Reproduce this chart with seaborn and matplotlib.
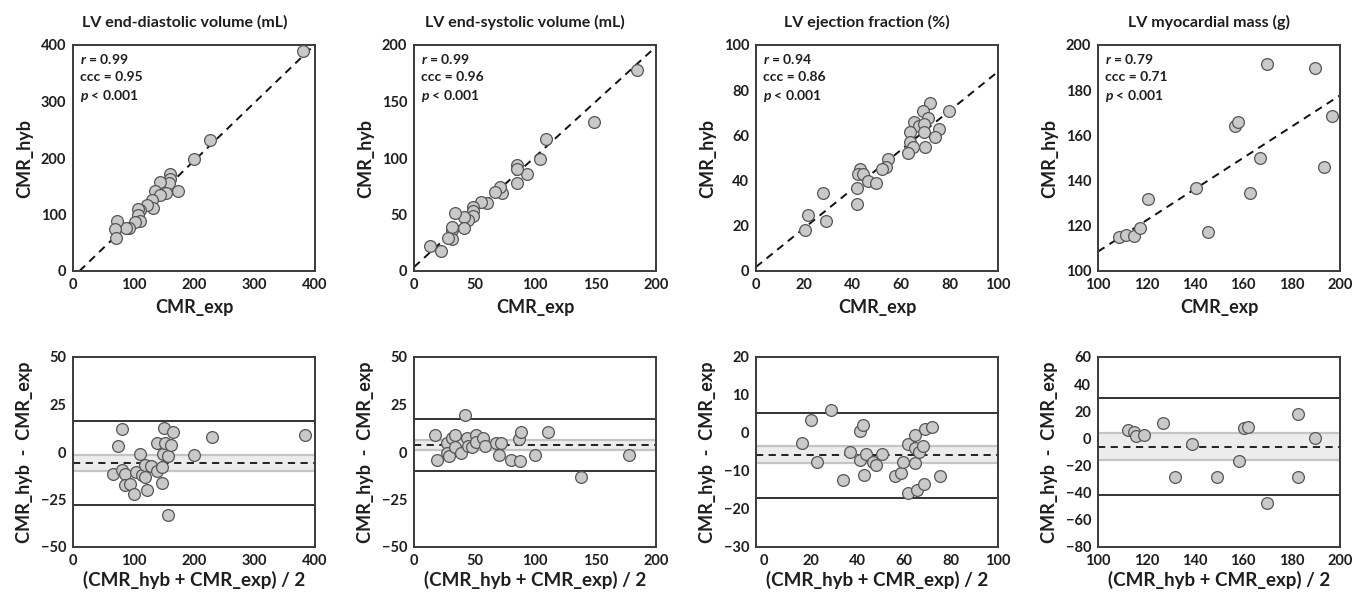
import numpy as np
import pandas as pd
import matplotlib
matplotlib.use("Agg")
import matplotlib.pyplot as plt
import seaborn as sns

# ---------------- data ----------------
titles = ["LV end-diastolic volume (mL)", "LV end-systolic volume (mL)",
          "LV ejection fraction (%)", "LV myocardial mass (g)"]
stats_r = ["0.99", "0.99", "0.94", "0.79"]
stats_ccc = ["0.95", "0.96", "0.86", "0.71"]

# correlation panels (CMR_exp, CMR_hyb)
edv_exp = [380.6, 226, 200.5, 160, 160, 158, 143, 154, 174, 135, 143, 131, 132, 122, 111, 108, 108, 111, 103, 93, 88, 73, 69, 71]
edv_hyb = [390, 232, 198, 172.5, 163.7, 156, 158, 138, 141, 142, 134, 125, 112, 116, 107.5, 109, 99, 89, 87, 76, 76, 88, 75, 59]
esv_exp = [184, 148.8, 109, 104, 93, 85, 85, 84.8, 73, 71, 67, 60, 55, 48.6, 48.6, 48.6, 44.9, 41, 41, 33.6, 31, 31, 31, 28, 13, 22]
esv_hyb = [178, 132, 117, 98.7, 85.7, 94, 90, 78, 69, 74, 70, 60, 61, 57, 53, 48.4, 45.5, 47.9, 38, 51.7, 36, 39, 28, 29.5, 21.9, 17.7]
ef_exp = [79.7, 72, 69, 71, 65.2, 67.5, 69.4, 69.6, 75.8, 73.9, 70, 63.7, 63.7, 65, 62.9, 54.5, 53.6, 51.9, 43.0, 42.3, 44.2, 46.3, 49.7, 41.6, 41.6, 27.7, 21.3, 20.3, 28.8]
ef_hyb = [70.9, 74.3, 71, 67.7, 66, 64, 65, 61.6, 63, 59.4, 55, 61.6, 57, 55, 52, 49.5, 46, 45, 45.3, 43.1, 43.1, 39.7, 39, 36.9, 29.8, 34.3, 24.7, 18, 22.0]
mass_exp = [108.6, 111.7, 114.8, 117.5, 120.7, 140.7, 145.5, 156.8, 157.7, 162.9, 166.8, 169.7, 189.7, 193.5, 196.6]
mass_hyb = [114.9, 116.1, 115.3, 119, 132, 136.6, 117.1, 164.3, 165.8, 134.3, 149.9, 191.8, 189.9, 145.8, 168.4]

reg_slope = [1.03, 0.975, 0.864, 0.691]
reg_intercept = [-11.0, 3.5, 1.8, 39.5]

# Bland-Altman panels (mean, difference)
edv_mean = [81.4, 73.7, 66.5, 80.4, 85.9, 86.4, 94.7, 100.8, 104.2, 110.2, 113.6, 118.6, 119.1, 121.9, 128.5, 138.5, 138.5, 146.8, 146.8, 148, 150.7, 151.8, 157.3, 157.3, 161.8, 165.7, 200.5, 229.9, 383.4]
edv_diff = [12, 3.1, -11.4, -9.7, -11.4, -17.3, -16.7, -22, -10.5, -1, -11.9, -13.2, -6.6, -19.9, -7.5, 4.9, -9.8, -7.9, -16.2, -1, 12.8, 4.5, -2.2, -33.2, 3.6, 10.5, -1.7, 7.9, 8.8]
esv_mean = [17.6, 19.3, 27.5, 27.5, 29.2, 31.7, 34.2, 33.6, 38.6, 41.9, 43.5, 44.6, 47.9, 50.9, 51.2, 57.3, 58.9, 67.5, 71.6, 70.2, 79.9, 86.5, 88.4, 87.9, 100, 111, 138, 177.4]
esv_diff = [9, -4.1, 4.5, -0.3, -2, 7.6, 8.8, 2.4, -0.6, 19.6, 7.6, 3.2, 2.4, 9.2, 5.3, 7.6, 2.9, 4.5, 5, -1.7, -4.1, 6.7, 10.6, -4.6, -1.7, 10.6, -13, -1.5]
ef_mean = [16.5, 20.3, 22.9, 28.8, 33.8, 36.9, 41.1, 41.1, 42.5, 42.6, 43.6, 46.7, 48.1, 50.3, 56.1, 58.6, 59.3, 61.5, 61.4, 64.4, 64.7, 64.7, 65.4, 66.1, 68.1, 68.6, 69, 71.9, 75.3]
ef_diff = [-2.6, 3.3, -7.5, 6, -12.4, -5.1, 0.4, -7, 2.2, -11, -5.4, -7.7, -8.3, -5.4, -11.4, -10.6, -7.5, -15.7, -2.9, -7.9, -0.5, -4, -15, -5.1, -3.5, -13.5, 1.1, 1.5, -11.4]
mass_mean = [112.3, 114.8, 115.7, 118.9, 126.8, 131.9, 139, 149.1, 158.3, 160.3, 161.8, 169.9, 182.5, 182.8, 189.6]
mass_diff = [6.5, 5, 1.5, 2.25, 11.5, -28.3, -3.75, -28.3, -16.75, 8, 8.25, -47.75, 18, -28.5, 0.25]

ba_bias = [-5.75, 3.75, -5.8, -6.0]
ba_loa_upper = [16.4, 17.2, 5.2, 30.0]
ba_loa_lower = [-27.9, -9.9, -17.0, -42.0]
ba_ci_upper = [-1.7, 6.2, -3.5, 4.25]
ba_ci_lower = [-10.2, 1.1, -7.9, -16.25]

top_xlim = [(0, 400), (0, 200), (0, 100), (100, 200)]
top_ylim = [(0, 400), (0, 200), (0, 100), (100, 200)]
top_xticks = [[0, 100, 200, 300, 400], [0, 50, 100, 150, 200], [0, 20, 40, 60, 80, 100], [100, 120, 140, 160, 180, 200]]
top_yticks = [[0, 100, 200, 300, 400], [0, 50, 100, 150, 200], [0, 20, 40, 60, 80, 100], [100, 120, 140, 160, 180, 200]]
bot_xlim = [(0, 400), (0, 200), (-3.3, 100), (100, 200)]
bot_ylim = [(-50, 50), (-50, 50), (-30, 20), (-80, 60)]
bot_xticks = [[0, 100, 200, 300, 400], [0, 50, 100, 150, 200], [0, 20, 40, 60, 80, 100], [100, 120, 140, 160, 180, 200]]
bot_yticks = [[-50, -25, 0, 25, 50], [-50, -25, 0, 25, 50], [-30, -20, -10, 0, 10, 20], [-80, -60, -40, -20, 0, 20, 40, 60]]

corr_x = [edv_exp, esv_exp, ef_exp, mass_exp]
corr_y = [edv_hyb, esv_hyb, ef_hyb, mass_hyb]
ba_x = [edv_mean, esv_mean, ef_mean, mass_mean]
ba_y = [edv_diff, esv_diff, ef_diff, mass_diff]

# ---------------- style ----------------
sns.set_theme(style="white")
plt.rcParams['font.family'] = ['Lato', 'DejaVu Sans']
plt.rcParams['font.weight'] = 'bold'
plt.rcParams['axes.labelweight'] = 'bold'
plt.rcParams['mathtext.fontset'] = 'custom'
plt.rcParams['mathtext.bfit'] = 'Lato:italic:bold'

W, H = 1355, 597
fig = plt.figure(figsize=(W / 100, H / 100), dpi=100)

lefts = [73, 414, 756, 1098]
width = 242
top_row = (45, 271)
bot_row = (357, 547)

spine_col = "#3a3a3a"
txt_col = "#1e1e1e"
pt_face = "#c9c9c9"
pt_edge = "#555555"


def style_axes(ax):
    for s in ax.spines.values():
        s.set_color(spine_col)
        s.set_linewidth(1.4)
        s.set_visible(True)
    ax.tick_params(length=0, pad=5, labelsize=10.5, colors=txt_col)
    for lab in ax.get_xticklabels() + ax.get_yticklabels():
        lab.set_fontweight("bold")


for i in range(4):
    # ---- correlation panel ----
    ax = fig.add_axes([lefts[i] / W, 1 - top_row[1] / H, width / W, (top_row[1] - top_row[0]) / H])
    df = pd.DataFrame({"x": corr_x[i], "y": corr_y[i]})
    ax.axline((0, reg_intercept[i]), slope=reg_slope[i], color="#111111", lw=1.4,
              linestyle=(0, (4, 3)), zorder=1)
    sns.scatterplot(data=df, x="x", y="y", ax=ax, s=72, color=pt_face,
                    edgecolor=pt_edge, linewidth=0.9, zorder=3)
    ax.set_xlim(*top_xlim[i])
    ax.set_ylim(*top_ylim[i])
    ax.set_xticks(top_xticks[i])
    ax.set_yticks(top_yticks[i])
    ax.set_xlabel("CMR_exp", fontsize=13, fontweight="bold", color=txt_col)
    ax.set_ylabel("CMR_hyb", fontsize=13, fontweight="bold", color=txt_col)
    ax.xaxis.set_label_coords(0.5, -0.125)
    ax.yaxis.set_label_coords(-0.165, 0.5)
    ax.text(0.46, 1.1, titles[i], transform=ax.transAxes, ha="center", va="center",
            fontsize=11.5, fontweight="bold", color=txt_col)
    kw = dict(transform=ax.transAxes, ha="left", va="center", fontsize=10,
              fontweight="bold", color=txt_col)
    ax.text(0.03, 0.94, r"$\bfit{r}$" + " = " + stats_r[i], **kw)
    ax.text(0.03, 0.858, "ccc = " + stats_ccc[i], **kw)
    ax.text(0.03, 0.776, r"$\bfit{p}$" + " < 0.001", **kw)
    style_axes(ax)

    # ---- Bland-Altman panel ----
    bx = fig.add_axes([lefts[i] / W, 1 - bot_row[1] / H, width / W, (bot_row[1] - bot_row[0]) / H])
    bx.axhspan(ba_ci_lower[i], ba_ci_upper[i], color="#ececec", zorder=0, lw=0)
    bx.axhline(ba_ci_upper[i], color="#c4c4c4", lw=1.6, zorder=1)
    bx.axhline(ba_ci_lower[i], color="#c4c4c4", lw=1.6, zorder=1)
    bx.axhline(ba_bias[i], color="#111111", lw=1.3, linestyle=(0, (4, 3)), zorder=2)
    bx.axhline(ba_loa_upper[i], color="#222222", lw=1.3, zorder=2)
    bx.axhline(ba_loa_lower[i], color="#222222", lw=1.3, zorder=2)
    dfb = pd.DataFrame({"m": ba_x[i], "d": ba_y[i]})
    sns.scatterplot(data=dfb, x="m", y="d", ax=bx, s=72, color=pt_face,
                    edgecolor=pt_edge, linewidth=0.9, zorder=3)
    bx.set_xlim(*bot_xlim[i])
    bx.set_ylim(*bot_ylim[i])
    bx.set_xticks(bot_xticks[i])
    bx.set_yticks(bot_yticks[i])
    bx.set_xlabel("(CMR_hyb + CMR_exp) / 2", fontsize=13.5, fontweight="bold", color=txt_col)
    bx.set_ylabel("CMR_hyb  -  CMR_exp", fontsize=13, fontweight="bold", color=txt_col)
    bx.xaxis.set_label_coords(0.5, -0.125)
    bx.yaxis.set_label_coords(-0.165, 0.5)
    style_axes(bx)

fig.savefig("out.png", dpi=100, facecolor="white")
